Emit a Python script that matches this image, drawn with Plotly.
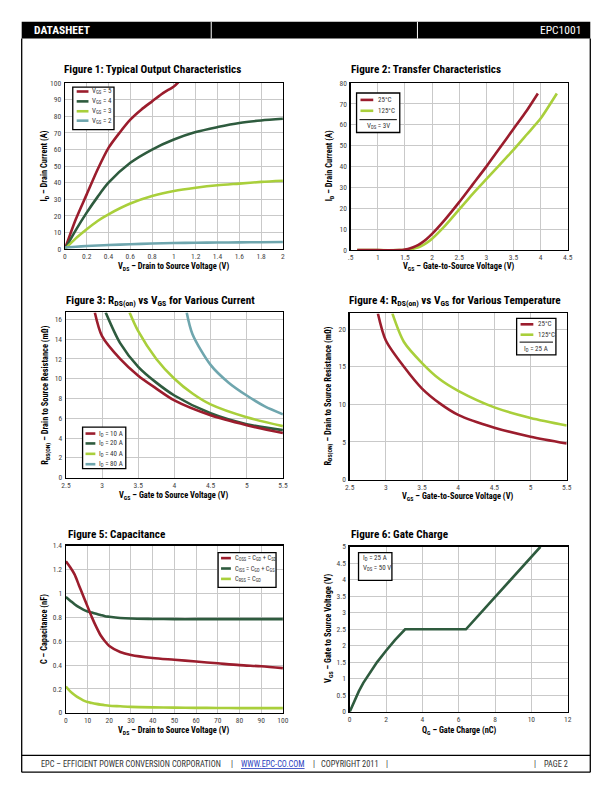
import plotly.graph_objects as go

W, H = 612, 792
FONT = "Roboto Condensed, Liberation Sans Narrow, Lato, Roboto, sans-serif"
RED = "#9b1d2d"; DKG = "#2e5b3e"; LTG = "#a9cf3b"; TEAL = "#6fa6ae"

# ---------------- data ----------------
# Figure 1: Typical Output Characteristics
f1_vds_5 = [0, 0.1, 0.2, 0.3, 0.4, 0.5, 0.6, 0.7, 0.8, 0.9, 1.0, 1.04]
f1_id_5 = [0, 18, 33, 48, 61, 70, 78, 84, 89, 94, 98, 100.5]
f1_vds = [0, 0.1, 0.2, 0.3, 0.4, 0.6, 0.8, 1.0, 1.2, 1.4, 1.6, 1.8, 2.0]
f1_id_4 = [0, 11.5, 22, 31.5, 40, 52, 60, 66, 70.5, 73.5, 76, 77.5, 78.5]
f1_id_3 = [0, 6.5, 12, 17, 21, 27.5, 32, 35, 37, 38.5, 39.5, 40.5, 41.2]
f1_id_2 = [1, 1.5, 1.9, 2.2, 2.5, 3.0, 3.4, 3.7, 3.9, 4.0, 4.1, 4.2, 4.3]
f1_names = ["V<sub>GS</sub> = 5", "V<sub>GS</sub> = 4", "V<sub>GS</sub> = 3", "V<sub>GS</sub> = 2"]

# Figure 2: Transfer Characteristics
f2_vgs_25 = [0.62, 1.0, 1.4, 1.5, 1.6, 1.7, 1.8, 1.9, 2.0, 2.25, 2.5, 2.75, 3.0, 3.25, 3.5, 3.75, 3.95]
f2_id_25 = [0, 0, 0, 0.3, 0.9, 1.9, 3.4, 5.4, 7.8, 15, 23, 31.5, 40, 49, 58, 67, 75]
f2_vgs_125 = [0.62, 1.0, 1.4, 1.5, 1.6, 1.7, 1.8, 1.9, 2.0, 2.25, 2.5, 2.75, 3.0, 3.25, 3.5, 3.75, 4.0, 4.3]
f2_id_125 = [0, 0, 0, 0.1, 0.4, 1.0, 2.0, 3.5, 5.5, 12, 19.5, 27, 34, 41, 48, 55.5, 63, 75]
f2_names = ["25°C", "125°C"]
f2_tickvals = [0.5, 1, 1.5, 2, 2.5, 3, 3.5, 4, 4.5]
f2_ticktext = [".5", "1", "1.5", "2", "2.5", "3", "3.5", "4", "4.5"]

# Figure 3: RDS(on) vs VGS for various current
f3_vgs_10 = [2.9, 3.0, 3.25, 3.5, 3.75, 4.0, 4.5, 5.0, 5.5]
f3_r_10 = [16.7, 14.3, 12.0, 10.3, 9.0, 7.8, 6.3, 5.3, 4.5]
f3_vgs_20 = [3.05, 3.25, 3.5, 3.75, 4.0, 4.5, 5.0, 5.5]
f3_r_20 = [16.7, 13.6, 11.2, 9.6, 8.3, 6.5, 5.4, 4.8]
f3_vgs_40 = [3.38, 3.5, 3.75, 4.0, 4.25, 4.5, 5.0, 5.5]
f3_r_40 = [16.7, 14.8, 12.0, 10.0, 8.5, 7.4, 6.1, 5.2]
f3_vgs_80 = [4.17, 4.25, 4.5, 4.75, 5.0, 5.25, 5.5]
f3_r_80 = [16.7, 14.5, 11.4, 9.6, 8.3, 7.2, 6.4]
f3_names = ["I<sub>D</sub> = 10 A", "I<sub>D</sub> = 20 A", "I<sub>D</sub> = 40 A", "I<sub>D</sub> = 80 A"]

# Figure 4: RDS(on) vs VGS for various temperature
f4_vgs_25 = [2.89, 3.0, 3.25, 3.5, 3.75, 4.0, 4.5, 5.0, 5.5]
f4_r_25 = [22.1, 18.5, 15.0, 12.1, 10.1, 8.6, 6.9, 5.7, 4.8]
f4_vgs_125 = [3.09, 3.25, 3.5, 3.75, 4.0, 4.5, 5.0, 5.5]
f4_r_125 = [22.1, 18.3, 15.5, 13.3, 11.8, 9.6, 8.2, 7.2]
f4_names = ["25°C", "125°C"]

# Figure 5: Capacitance
f5_vds = [0, 2, 4, 6, 8, 10, 12, 14, 16, 18, 20, 25, 30, 40, 50, 60, 70, 80, 90, 100]
f5_coss = [1.27, 1.22, 1.16, 1.07, 0.98, 0.89, 0.80, 0.72, 0.65, 0.60, 0.56, 0.51, 0.485, 0.46, 0.445, 0.43, 0.415, 0.40, 0.39, 0.375]
f5_ciss = [0.97, 0.94, 0.91, 0.885, 0.865, 0.85, 0.84, 0.83, 0.82, 0.81, 0.805, 0.795, 0.79, 0.787, 0.785, 0.785, 0.785, 0.785, 0.785, 0.785]
f5_crss = [0.22, 0.18, 0.15, 0.125, 0.105, 0.09, 0.082, 0.075, 0.069, 0.064, 0.06, 0.055, 0.05, 0.046, 0.044, 0.042, 0.041, 0.04, 0.04, 0.04]
f5_names = ["C<sub>OSS</sub> = C<sub>GD</sub> + C<sub>SD</sub>",
            "C<sub>ISS</sub> = C<sub>GD</sub> + C<sub>GS</sub>",
            "C<sub>RSS</sub> = C<sub>GD</sub>"]
f5_ytickvals = [0, 0.2, 0.4, 0.6, 0.8, 1.0, 1.2, 1.4]
f5_yticktext = ["0", "0.2", "0.4", "0.6", "0.8", "1", "1.2", "1.4"]

# Figure 6: Gate Charge
f6_qg = [0, 0.25, 0.5, 0.75, 1.0, 1.5, 2.0, 2.5, 3.05, 6.4, 10.5]
f6_vgs = [0, 0.32, 0.62, 0.88, 1.1, 1.5, 1.85, 2.18, 2.5, 2.5, 5.0]
f6_ytickvals = [0, 0.5, 1, 1.5, 2, 2.5, 3, 3.5, 4, 4.5, 5]
f6_yticktext = ["0", "0.5", "1", "1.5", "2", "2.5", "3", "3.5", "4", "4.5", "5"]

# ---------------- helpers ----------------
def PX(x):
    return x / W

def PY(y):
    return 1 - y / H

fig = go.Figure()
shapes = []
annos = []

def add_line(i, x, y, color, shape="spline", smoothing=0.8):
    ax = "" if i == 1 else str(i)
    line = dict(color=color, width=2.6, shape=shape)
    if shape == "spline":
        line["smoothing"] = smoothing
    fig.add_trace(go.Scatter(x=x, y=y, mode="lines", line=line, showlegend=False,
                             hoverinfo="skip", xaxis="x" + ax, yaxis="y" + ax))

panels = {
    1: dict(box=(61, 80, 283, 248), xr=[0, 2], yr=[0, 100], xd=0.2, yd=10),
    2: dict(box=(352, 80, 573, 249), xr=[0.5, 4.5], yr=[0, 80], xd=0.5, yd=10),
    3: dict(box=(62, 312, 283, 479), xr=[2.5, 5.5], yr=[0, 16.7], xd=0.5, yd=2),
    4: dict(box=(351, 313, 572, 481), xr=[2.5, 5.5], yr=[0, 22.1], xd=0.5, yd=5),
    5: dict(box=(62, 548, 283, 717), xr=[0, 100], yr=[0, 1.4], xd=10, yd=0.2),
    6: dict(box=(351, 549, 573, 716), xr=[0, 12], yr=[0, 5], xd=2, yd=0.5),
}

layout_axes = {}
for i, p in panels.items():
    x0, y0, x1, y1 = p["box"]
    ax = "" if i == 1 else str(i)
    common = dict(showgrid=True, gridcolor="#c9c9c9", gridwidth=1, zeroline=False,
                  showline=True, linecolor="black", linewidth=1.3, mirror=True,
                  ticks="", tickfont=dict(family=FONT, size=7.5, color="#444"))
    xa = dict(common, domain=[PX(x0), PX(x1)], range=p["xr"], dtick=p["xd"], tick0=p["xr"][0],
              anchor="y" + ax, ticklabelstandoff=0)
    ya = dict(common, domain=[PY(y1), PY(y0)], range=p["yr"], dtick=p["yd"], tick0=0,
              anchor="x" + ax, ticklabelstandoff=1)
    layout_axes["xaxis" + ax] = xa
    layout_axes["yaxis" + ax] = ya

layout_axes["xaxis2"].update(tickvals=f2_tickvals, ticktext=f2_ticktext)
layout_axes["yaxis5"].update(tickvals=f5_ytickvals, ticktext=f5_yticktext)
layout_axes["yaxis6"].update(tickvals=f6_ytickvals, ticktext=f6_yticktext)

# traces
add_line(1, f1_vds_5, f1_id_5, RED)
add_line(1, f1_vds, f1_id_4, DKG)
add_line(1, f1_vds, f1_id_3, LTG)
add_line(1, f1_vds, f1_id_2, TEAL)
add_line(2, f2_vgs_125, f2_id_125, LTG, smoothing=0.6)
add_line(2, f2_vgs_25, f2_id_25, RED, smoothing=0.6)
add_line(3, f3_vgs_80, f3_r_80, TEAL)
add_line(3, f3_vgs_40, f3_r_40, LTG)
add_line(3, f3_vgs_20, f3_r_20, DKG)
add_line(3, f3_vgs_10, f3_r_10, RED)
add_line(4, f4_vgs_125, f4_r_125, LTG)
add_line(4, f4_vgs_25, f4_r_25, RED)
add_line(5, f5_vds, f5_crss, LTG)
add_line(5, f5_vds, f5_ciss, DKG)
add_line(5, f5_vds, f5_coss, RED)
add_line(6, f6_qg, f6_vgs, DKG, shape="linear")

# ---------------- text helpers ----------------
def text(x, y, s, size=8, bold=False, color="black", anchor="left", angle=0, yanchor="middle"):
    if bold:
        s = "<b>" + s + "</b>"
    annos.append(dict(x=PX(x), y=PY(y), xref="paper", yref="paper", text=s, showarrow=False,
                      xanchor=anchor, yanchor=yanchor, textangle=angle, align=anchor,
                      font=dict(family=FONT, size=size, color=color)))

def rect(x0, y0, x1, y1, fill=None, lw=1.2, color="black"):
    shapes.append(dict(type="rect", xref="paper", yref="paper", x0=PX(x0), x1=PX(x1),
                       y0=PY(y1), y1=PY(y0), line=dict(color=color, width=lw),
                       fillcolor=fill if fill else "rgba(0,0,0,0)"))

def hline(x0, x1, y, color="black", lw=1.2):
    shapes.append(dict(type="line", xref="paper", yref="paper", x0=PX(x0), x1=PX(x1),
                       y0=PY(y), y1=PY(y), line=dict(color=color, width=lw)))

def vline(x, y0, y1, color="black", lw=1.2):
    shapes.append(dict(type="line", xref="paper", yref="paper", x0=PX(x), x1=PX(x),
                       y0=PY(y0), y1=PY(y1), line=dict(color=color, width=lw)))

def legend(box, items, colors, lx0, lx1, tx, ys, extra=None, sep=None, size=7):
    rect(*box, fill="white", lw=1.3)
    for name, c, y in zip(items, colors, ys):
        hline(lx0, lx1, y, color=c, lw=2.6)
        text(tx, y, name, size=size, color="#333")
    if sep is not None:
        hline(box[0] + 3, box[2] - 3, sep, lw=1)
    if extra:
        for s, y in extra:
            text((box[0] + box[2]) / 2, y, s, size=size, color="#333", anchor="center")

# ---------------- page furniture ----------------
rect(17, 18, 596, 35, fill="black", lw=0)
vline(210, 18, 35, color="white", lw=1)
vline(420, 18, 35, color="white", lw=1)
text(28, 26.5, "DATASHEET", size=11.5, bold=True, color="white")
text(589, 26.5, "EPC1001", size=11.5, color="white", anchor="right")
vline(17, 35, 777, lw=1.3)
vline(596, 35, 777, lw=1.3)
hline(17, 596, 760, lw=1.3)
hline(17, 596, 777, lw=1.3)
FT = 8.3
text(35, 768.5, "EPC – EFFICIENT POWER CONVERSION CORPORATION", size=FT, color="#333")
text(231, 768.5, "|", size=FT, color="#333", anchor="center")
text(238, 768.5, "<u>WWW.EPC-CO.COM</u>", size=FT, color="#2a3fbf")
text(315, 768.5, "|", size=FT, color="#333", anchor="center")
text(320, 768.5, "COPYRIGHT 2011", size=FT, color="#333")
text(389, 768.5, "|", size=FT, color="#333", anchor="center")
text(540, 768.5, "|", size=FT, color="#333", anchor="center")
text(547, 768.5, "PAGE 2", size=FT, color="#333")

# ---------------- titles ----------------
TS = 11.2
text(58, 66, "Figure 1: Typical Output Characteristics", size=TS, bold=True)
text(350, 66, "Figure 2: Transfer Characteristics", size=TS, bold=True)
text(60, 300, "Figure 3: R<sub>DS(on)</sub> vs V<sub>GS</sub> for Various Current", size=TS, bold=True)
text(348, 300, "Figure 4: R<sub>DS(on)</sub> vs V<sub>GS</sub> for Various Temperature", size=TS, bold=True)
text(62, 537, "Figure 5: Capacitance", size=TS, bold=True)
text(350, 537, "Figure 6: Gate Charge", size=TS, bold=True)

# axis titles
AX = 8.4
text(172, 266, "V<sub>DS</sub> – Drain to Source Voltage (V)", size=AX, bold=True, anchor="center")
text(40, 164, "I<sub>D</sub> – Drain Current (A)", size=AX, bold=True, anchor="center", angle=-90)
text(462, 266, "V<sub>GS</sub> – Gate-to-Source Voltage (V)", size=AX, bold=True, anchor="center")
text(330, 164, "I<sub>D</sub> – Drain Current (A)", size=AX, bold=True, anchor="center", angle=-90)
text(172, 497, "V<sub>GS</sub> – Gate to Source Voltage (V)", size=AX, bold=True, anchor="center")
text(41, 396, "R<sub>DS(ON)</sub> – Drain to Source Resistance (mΩ)", size=AX, bold=True, anchor="center", angle=-90)
text(461, 498, "V<sub>GS</sub> – Gate-to-Source Voltage (V)", size=AX, bold=True, anchor="center")
text(330, 397, "R<sub>DS(ON)</sub> – Drain to Source Resistance (mΩ)", size=AX, bold=True, anchor="center", angle=-90)
text(172, 735, "V<sub>DS</sub> – Drain to Source Voltage (V)", size=AX, bold=True, anchor="center")
text(41, 632, "C – Capacitance (nF)", size=AX, bold=True, anchor="center", angle=-90)
text(462, 735, "Q<sub>G</sub> – Gate Charge (nC)", size=AX, bold=True, anchor="center")
text(330, 632, "V<sub>GS</sub> – Gate to Source Voltage (V)", size=AX, bold=True, anchor="center", angle=-90)

# ---------------- legends ----------------
legend((69, 84, 111, 127), f1_names, [RED, DKG, LTG, TEAL], 73, 85, 87, [88.5, 98.5, 108.5, 118])
legend((358, 90, 402, 130), f2_names, [RED, LTG], 362, 375, 378, [97, 108], sep=117,
       extra=[("V<sub>DS</sub> = 3V", 123)])
legend((79, 428, 123, 470), f3_names, [RED, DKG, LTG, TEAL], 82, 92, 94, [434.5, 444.5, 455, 465.5])
legend((521, 318, 561, 355), f4_names, [RED, LTG], 525, 538, 541, [324, 334.5], sep=342,
       extra=[("I<sub>D</sub> = 25 A", 348.5)])
legend((217, 555, 276, 590), f5_names, [RED, DKG, LTG], 220, 230, 232, [560.5, 571, 581.5], size=6.5)
rect(360, 555, 394, 583, fill="white", lw=1.3)
text(363, 560, "I<sub>D</sub> = 25 A", size=7, color="#333")
text(363, 570, "V<sub>DS</sub> = 50 V", size=7, color="#333")

fig.update_layout(width=W, height=H, margin=dict(l=0, r=0, t=0, b=0),
                  paper_bgcolor="white", plot_bgcolor="white",
                  shapes=shapes, annotations=annos, showlegend=False,
                  font=dict(family=FONT), **layout_axes)

fig.write_html("out.html", config={"displayModeBar": False, "staticPlot": True},
               post_script="document.body.style.margin='0';document.body.style.overflow='hidden';")
